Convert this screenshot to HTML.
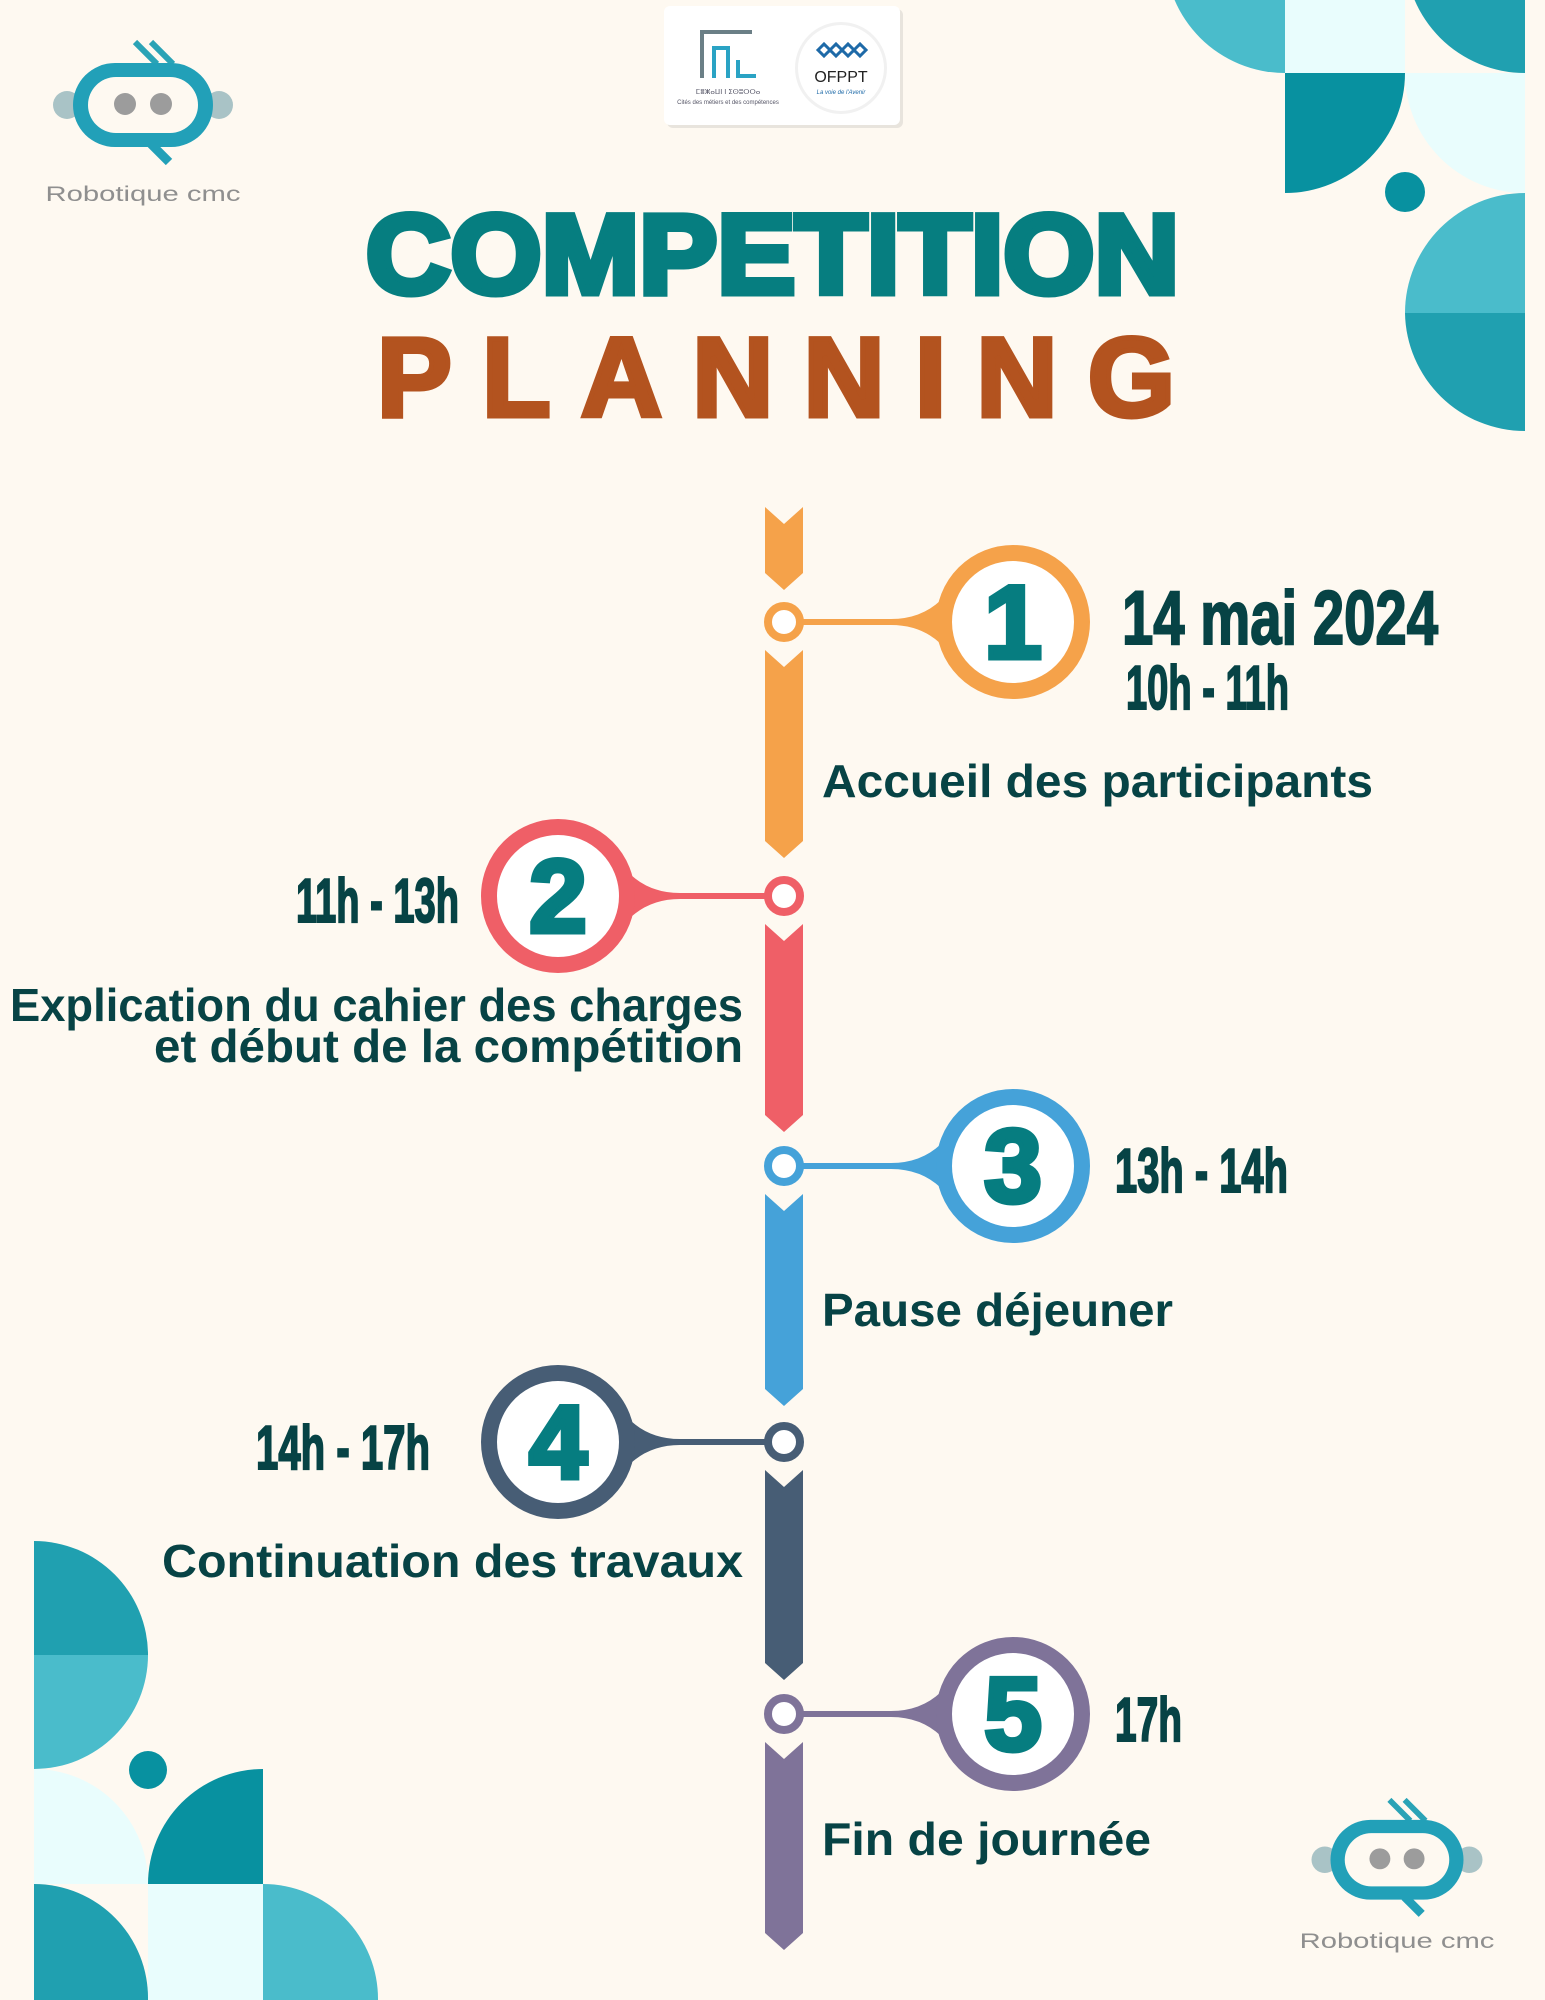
<!DOCTYPE html>
<html><head><meta charset="utf-8"><style>
html,body{margin:0;padding:0;background:#fef9f1;}
svg{display:block;}
text{font-family:"Liberation Sans",sans-serif;}
</style></head><body>
<svg id="page" width="1545" height="2000" viewBox="0 0 1545 2000" xmlns="http://www.w3.org/2000/svg">
<rect width="1545" height="2000" fill="#fef9f1"/>

<g>
  <path d="M1165,-47 L1285,-47 L1285,73 A120,120 0 0 1 1165,-47 Z" fill="#4abccb"/>
  <rect x="1285" y="-47" width="120" height="120" fill="#e9fdfd"/>
  <path d="M1405,-47 L1525,-47 L1525,73 A120,120 0 0 1 1405,-47 Z" fill="#20a0b0"/>
  <path d="M1285,73 L1405,73 A120,120 0 0 1 1285,193 Z" fill="#0891a0"/>
  <path d="M1405,73 L1525,73 L1525,193 A120,120 0 0 1 1405,73 Z" fill="#e9fdfd"/>
  <circle cx="1405" cy="192" r="20" fill="#0891a0"/>
  <path d="M1525,193 L1525,313 L1405,313 A120,120 0 0 1 1525,193 Z" fill="#4abccb"/>
  <path d="M1525,313 L1525,431 A120,120 0 0 1 1405,313 Z" fill="#20a0b0"/>
</g>

<g>
  <path d="M34,1541 A114,114 0 0 1 148,1655 L34,1655 Z" fill="#20a0b0"/>
  <path d="M34,1655 L148,1655 A114,114 0 0 1 34,1769 Z" fill="#4abccb"/>
  <path d="M34,1769 A114,114 0 0 1 148,1884 L34,1884 Z" fill="#e9fdfd"/>
  <path d="M263,1769 L263,1884 L148,1884 A115,115 0 0 1 263,1769 Z" fill="#0891a0"/>
  <circle cx="148" cy="1770" r="19" fill="#0891a0"/>
  <path d="M34,1884 A114,114 0 0 1 148,2000 L34,2000 Z" fill="#20a0b0"/>
  <rect x="148" y="1884" width="115" height="116" fill="#e9fdfd"/>
  <path d="M263,1884 A115,115 0 0 1 378,2000 L263,2000 Z" fill="#4abccb"/>
</g>

<g>
  <rect x="667" y="9" width="236" height="119" rx="6" fill="#e8e4dd"/>
  <rect x="664" y="6" width="236" height="119" rx="6" fill="#ffffff"/>
  <g>
    <path d="M700,30 L752,30 L752,34 L704,34 L704,78 L700,78 Z" fill="#6b7f86"/>
    <path d="M712,46 L730,46 L730,78 L726,78 L726,50 L716,50 L716,78 L712,78 Z" fill="#2aa3c4"/>
    <path d="M736,60 L740,60 L740,74 L756,74 L756,78 L736,78 Z" fill="#2aa3c4"/>
    <text x="728" y="94" font-size="7" fill="#556" text-anchor="middle">ⵎⴻⵥⴰⵡⵏ ⵏ ⵉⵙⵓⵔⵔⴰ</text>
    <text x="728" y="104" font-size="6" fill="#556" text-anchor="middle">Cités des métiers et des compétences</text>
  </g>
  <g>
    <circle cx="841" cy="68" r="46" fill="#f1f1f1"/>
    <circle cx="841" cy="68" r="43" fill="#ffffff"/>
    <path d="M818,50 l6,-6 l6,6 l-6,6 Z M830,50 l6,-6 l6,6 l-6,6 Z M842,50 l6,-6 l6,6 l-6,6 Z M854,50 l6,-6 l6,6 l-6,6 Z" fill="none" stroke="#1e6aa8" stroke-width="3"/>
    <text x="841" y="82" font-family="Liberation Serif,serif" font-size="16" fill="#222" text-anchor="middle">OFPPT</text>
    <text x="841" y="94" font-family="Liberation Serif,serif" font-style="italic" font-size="6" fill="#1e6aa8" text-anchor="middle">La voie de l'Avenir</text>
  </g>
</g>

<g transform="translate(143,100)">
  <path d="M-8,-58 L14,-36 M8,-58 L30,-36" stroke="#2aa3b6" stroke-width="6"/>
  <circle cx="-76" cy="5" r="14" fill="#a9c3c6"/>
  <circle cx="76" cy="5" r="14" fill="#a9c3c6"/>
  <rect x="-70" y="-37" width="140" height="84" rx="42" fill="#22a0b8"/>
  <rect x="-55" y="-23" width="110" height="56" rx="28" fill="#fef9f1"/>
  <circle cx="-18" cy="4" r="11" fill="#9c9c9c"/>
  <circle cx="18" cy="4" r="11" fill="#9c9c9c"/>
  <path d="M8,44 L26,62" stroke="#22a0b8" stroke-width="9"/>
  <text x="0" y="101" font-size="21" fill="#8f8f8f" text-anchor="middle" textLength="195" lengthAdjust="spacingAndGlyphs">Robotique cmc</text>
</g>
<g transform="translate(1397,1855) scale(0.95)">
  <path d="M-8,-58 L14,-36 M8,-58 L30,-36" stroke="#2aa3b6" stroke-width="6"/>
  <circle cx="-76" cy="5" r="14" fill="#a9c3c6"/>
  <circle cx="76" cy="5" r="14" fill="#a9c3c6"/>
  <rect x="-70" y="-37" width="140" height="84" rx="42" fill="#22a0b8"/>
  <rect x="-55" y="-23" width="110" height="56" rx="28" fill="#fef9f1"/>
  <circle cx="-18" cy="4" r="11" fill="#9c9c9c"/>
  <circle cx="18" cy="4" r="11" fill="#9c9c9c"/>
  <path d="M8,44 L26,62" stroke="#22a0b8" stroke-width="9"/>
  <text x="0" y="98" font-size="22" fill="#8f8f8f" text-anchor="middle" textLength="205" lengthAdjust="spacingAndGlyphs">Robotique cmc</text>
</g>

<text x="366" y="293" font-size="112" font-weight="bold" fill="#067e80" stroke="#067e80" stroke-width="7" textLength="813" lengthAdjust="spacingAndGlyphs">COMPETITION</text>
<text x="377" y="416" font-size="112" font-weight="bold" fill="#b3531f" stroke="#b3531f" stroke-width="5" textLength="798" lengthAdjust="spacing">PLANNING</text>

<path d="M765,507 L784,524 L803,507 L803,573 L784,590 L765,573 Z" fill="#f5a24a"/>

<g id="timeline"></g>
</svg>
<script>
const stepNumbers = ["1","2","3","4","5"];
const stepTimes = ["10h - 11h","11h - 13h","13h - 14h","14h - 17h","17h"];
const stepSides = ["right","left","right","left","right"];
const stepNodeY = [622, 896, 1166, 1442, 1714];
const stepColors = ["#f5a24a","#ef5f67","#45a2d9","#475d75","#7f7399"];
const stepLabels = [["Accueil des participants"],["Explication du cahier des charges","et début de la compétition"],["Pause déjeuner"],["Continuation des travaux"],["Fin de journée"]];
const stepBarEnd = [858, 1132, 1406, 1680, 1950];

const NS = "http://www.w3.org/2000/svg";
const g = document.getElementById("timeline");
const X = 784, HW = 19, N = 17;
const dark = "#074345";
const timeLayout = [[1126,709,163],[459,922,163],[1115,1192,173],[430,1469,174],[1115,1741,67]];
const labelLayout = [[797,[551]],[1021,[733,589]],[1326,[351]],[1577,[581]],[1855,[329]]];
function mk(tag, attrs, parent){ const e = document.createElementNS(NS, tag); for (const k in attrs) e.setAttribute(k, attrs[k]); (parent||g).appendChild(e); return e; }

stepNumbers.forEach((num, i) => {
  const y = stepNodeY[i], c = stepColors[i], right = stepSides[i] === "right";
  const cx = right ? 1013 : 558;
  const top = y + 28, bot = stepBarEnd[i];
  const bar = mk("path", {d:`M${X-HW},${top} L${X},${top+N} L${X+HW},${top} L${X+HW},${bot-N} L${X},${bot} L${X-HW},${bot-N} Z`, fill:c});
  
  
  const edge = right ? cx - 77 : cx + 77;
  const conn = mk("path", {d:`M${X},${y} L${right?edge-40:edge+40},${y}`, stroke:c, "stroke-width":6, fill:"none"});
  
  
  const flare = mk("path", {d: right ? `M${edge-45},${y-3} Q${edge-15},${y-3} ${edge+5},${y-22} L${edge+5},${y+22} Q${edge-15},${y+3} ${edge-45},${y+3} Z` : `M${edge+45},${y-3} Q${edge+15},${y-3} ${edge-5},${y-22} L${edge-5},${y+22} Q${edge+15},${y+3} ${edge+45},${y+3} Z`, fill:c});
  
  
  const node = mk("circle", {cx:X, cy:y, r:16, fill:"#fff", stroke:c, "stroke-width":8});
  
  
  const ring = mk("circle", {cx:cx, cy:y, r:69, fill:"#fff", stroke:c, "stroke-width":16});
  
  
  const nt = mk("text", {x:cx, y:y+36, "font-size":104, "font-weight":"bold", fill:"#067d80", stroke:"#067d80", "stroke-width":5, "text-anchor":"middle"});
  nt.textContent = num;
  
  

  const tlay = timeLayout[i];
  const tt = mk("text", {x:tlay[0], y:tlay[1], "font-size":62, "font-weight":"bold", fill:dark, stroke:dark, "stroke-width":2, "text-anchor": right ? "start" : "end", textLength: tlay[2], lengthAdjust:"spacingAndGlyphs"});
  tt.textContent = stepTimes[i];
  
  

  const lines = stepLabels[i];
  const llay = labelLayout[i];
  lines.forEach((ln, j) => {
    const lt = mk("text", {x: right ? 822 : 743, y: llay[0] + j*41, "font-size":46, "font-weight":"bold", fill:dark, "text-anchor": right ? "start" : "end", textLength: llay[1][j], lengthAdjust:"spacingAndGlyphs"});
    lt.textContent = ln;
    
    
  });
});

const dt = mk("text", {x:1122, y:644, "font-size":76, "font-weight":"bold", fill:dark, stroke:dark, "stroke-width":2, textLength:316, lengthAdjust:"spacingAndGlyphs"});
dt.textContent = "14 mai 2024";


</script>
</body></html>
